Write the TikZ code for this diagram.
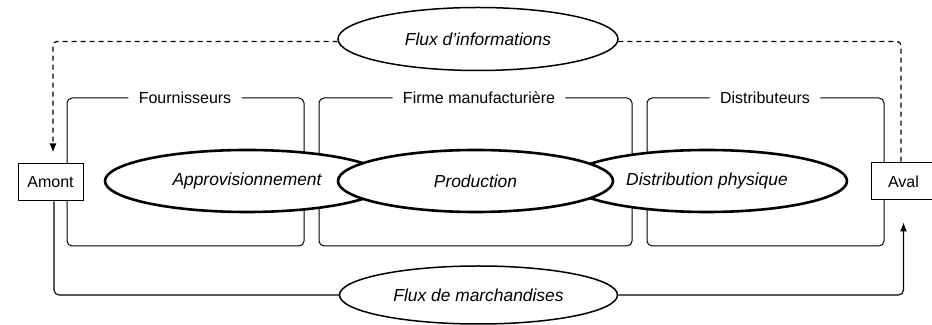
\documentclass[tikz,border=0pt]{standalone}
\usepackage{fontspec}
\setmainfont{Liberation Sans}
\usetikzlibrary{arrows.meta,calc,positioning,shapes.geometric}
\tikzset{>={Latex[length=4.5pt,width=3.5pt]}}
\tikzset{stage/.style={ellipse, draw, line width=1.3pt, fill=white, inner sep=0pt, minimum height=31pt, font=\fontsize{8.7}{10}\selectfont\itshape}}
\tikzset{flow/.style={ellipse, draw, line width=0.75pt, fill=white, inner sep=0pt, font=\fontsize{8.7}{10}\selectfont\itshape}}
\tikzset{endbox/.style={draw, line width=0.5pt, fill=white, minimum width=32.5pt, minimum height=18.5pt, inner sep=0pt, font=\fontsize{8}{10}\selectfont}}
\tikzset{grouptitle/.style={inner xsep=5pt, inner ysep=0pt, font=\fontsize{8}{10}\selectfont}}
\tikzset{groupframe/.style={line width=0.5pt, rounded corners=2.5pt}}
\tikzset{infoflow/.style={line width=0.65pt, dash pattern=on 2.5pt off 2pt, rounded corners=2pt}}
\tikzset{goodsflow/.style={line width=0.55pt, rounded corners=2.5pt}}

\begin{document}
\begin{tikzpicture}[x=0.5pt,y=-0.5pt]
  \useasboundingbox (0,0) rectangle (932,325);
  \node[grouptitle] (fourn) at (185,98) {Fournisseurs};
  \node[grouptitle] (firme) at (479,98) {Firme manufacturière};
  \node[grouptitle] (distr) at (765,98) {Distributeurs};
  \draw[groupframe] (fourn.west) -| (67,246) -| (304,98) -- (fourn.east);
  \draw[groupframe] (firme.west) -| (319,246) -| (632,98) -- (firme.east);
  \draw[groupframe] (distr.west) -| (647,246) -| (884,98) -- (distr.east);
  \node[endbox] (amont) at (50.5,182.5) {Amont};
  \node[endbox] (aval) at (903.5,181.5) {Aval};
  \node[stage, minimum width=142pt] (appro) at (247,181) {Approvisionnement};
  \node[stage, minimum width=140pt] (distrib) at (707,181) {Distribution physique};
  \node[stage, minimum width=137.5pt] (prod) at (475.5,181) {Production};
  \node[flow, minimum width=140pt, minimum height=31.5pt] (info) at (478,39) {Flux d'informations};
  \node[flow, minimum width=139pt, minimum height=29pt] (march) at (478.5,295) {Flux de marchandises};
  \draw[infoflow,->,shorten >=5.5pt] (info.181) -| ([xshift=1.25pt]amont.north);
  \draw[infoflow] (info.-1) -| ([xshift=-1.25pt]aval.north);
  \draw[goodsflow] ([xshift=1.75pt]amont.south) |- (march.west);
  \draw[goodsflow,->,shorten >=11pt] (march.east) -| (aval.south);
\end{tikzpicture}
\end{document}
